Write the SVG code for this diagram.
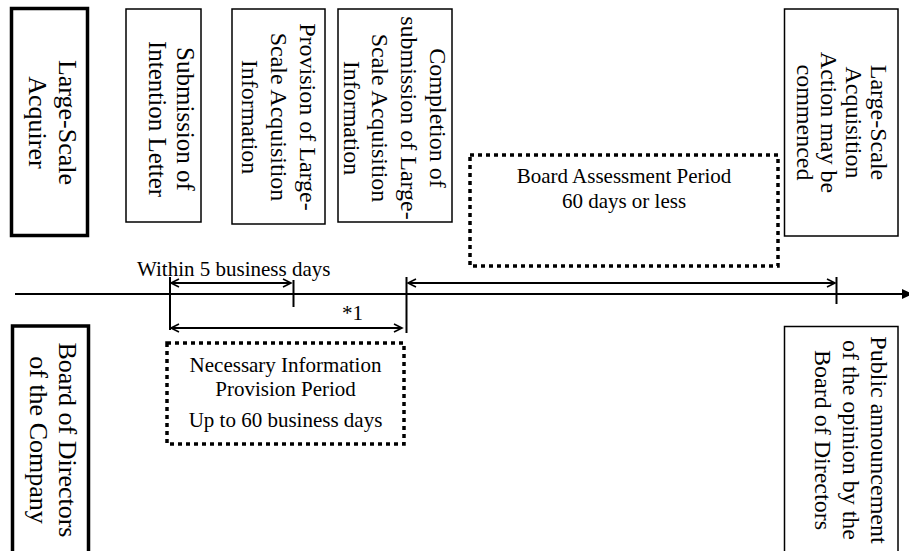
<svg xmlns="http://www.w3.org/2000/svg" width="909" height="551" viewBox="0 0 909 551">
<style>
text{font-family:"Liberation Serif","Times New Roman",serif;fill:#000}
.h{font-size:21px;text-anchor:middle}
.r24{font-size:24px;text-anchor:middle}
.r25{font-size:25px;text-anchor:middle}
.r26{font-size:26px;text-anchor:middle}
.box{fill:#fff;stroke:#000;stroke-width:1.5}
.thick{fill:#fff;stroke:#000;stroke-width:3.5}
.dot{fill:none;stroke:#000;stroke-width:3.5;stroke-dasharray:4 4}
.tick{stroke:#000;stroke-width:2}
.dim{stroke:#000;stroke-width:1.8;fill:none}
</style>
<defs>
<marker id="open" viewBox="-10 -6 12 12" refX="0" refY="0" markerWidth="12" markerHeight="12" markerUnits="userSpaceOnUse" orient="auto-start-reverse">
<path d="M-8,-4 L0,0 L-8,4" fill="none" stroke="#000" stroke-width="1.6"/>
</marker>
</defs>

<g id="acquirer">
<rect class="thick" x="11.5" y="8.5" width="76" height="227"/>
<text class="r26" transform="translate(59,122.5) rotate(90)">Large-Scale</text>
<text class="r26" transform="translate(29,122.5) rotate(90)">Acquirer</text>
</g>

<g id="submission">
<rect class="box" x="126" y="9" width="75" height="213"/>
<text class="r25" transform="translate(177,119) rotate(90)">Submission of</text>
<text class="r25" transform="translate(149,119) rotate(90)">Intention Letter</text>
</g>

<g id="provision">
<rect class="box" x="232" y="9" width="93" height="215"/>
<text class="r24" transform="translate(300,117) rotate(90)">Provision of Large-</text>
<text class="r24" transform="translate(271,117) rotate(90)">Scale Acquisition</text>
<text class="r24" transform="translate(242,117) rotate(90)">Information</text>
</g>

<g id="completion">
<rect class="box" x="338" y="9" width="114" height="213"/>
<text class="r24" transform="translate(430,118) rotate(90)">Completion of</text>
<text class="r24" transform="translate(401,118) rotate(90)">submission of Large-</text>
<text class="r24" transform="translate(372,118) rotate(90)">Scale Acquisition</text>
<text class="r24" transform="translate(344,118) rotate(90)">Information</text>
</g>

<g id="board-assessment">
<rect class="dot" x="470" y="155" width="308" height="111"/>
<text class="h" x="624" y="183">Board Assessment Period</text>
<text class="h" x="624" y="208">60 days or less</text>
</g>

<g id="action">
<rect class="box" x="784.5" y="9" width="113.5" height="227"/>
<text class="r24" transform="translate(871,122.5) rotate(90)">Large-Scale</text>
<text class="r24" transform="translate(846,122.5) rotate(90)">Acquisition</text>
<text class="r24" transform="translate(821,122.5) rotate(90)">Action may be</text>
<text class="r24" transform="translate(797,122.5) rotate(90)">commenced</text>
</g>

<g id="board-directors">
<rect class="thick" x="12.5" y="326" width="76" height="240"/>
<text class="r26" transform="translate(59,440) rotate(90)">Board of Directors</text>
<text class="r26" transform="translate(30,440) rotate(90)">of the Company</text>
</g>

<g id="necessary">
<rect class="dot" x="167" y="343" width="237" height="101"/>
<text class="h" x="285.5" y="372">Necessary Information</text>
<text class="h" x="285.5" y="395.5">Provision Period</text>
<text class="h" x="285.5" y="427">Up to 60 business days</text>
</g>

<g id="announcement">
<rect class="box" x="784.5" y="326.5" width="113.5" height="240"/>
<text class="r24" transform="translate(871,440) rotate(90)">Public announcement</text>
<text class="r24" transform="translate(843,440) rotate(90)">of the opinion by the</text>
<text class="r24" transform="translate(815,440) rotate(90)">Board of Directors</text>
</g>

<g id="connectors">
<line x1="15" y1="294" x2="903" y2="294" stroke="#000" stroke-width="2"/>
<polygon points="902,289 913,294 902,299" fill="#000"/>
<line class="tick" x1="170" y1="277" x2="170" y2="330"/>
<line class="tick" x1="293.5" y1="280" x2="293.5" y2="307"/>
<line class="tick" x1="406.5" y1="277" x2="406.5" y2="333"/>
<line class="tick" x1="836.5" y1="277" x2="836.5" y2="304"/>
<line class="dim" x1="171" y1="283" x2="291" y2="283" marker-start="url(#open)" marker-end="url(#open)"/>
<line class="dim" x1="171" y1="328" x2="402" y2="328" marker-start="url(#open)" marker-end="url(#open)"/>
<line class="dim" x1="408" y1="283" x2="835" y2="283" marker-start="url(#open)" marker-end="url(#open)"/>
<text x="137" y="276" style="font-size:21px">Within 5 business days</text>
<text x="342" y="320" style="font-size:21px">*1</text>
</g>
</svg>
